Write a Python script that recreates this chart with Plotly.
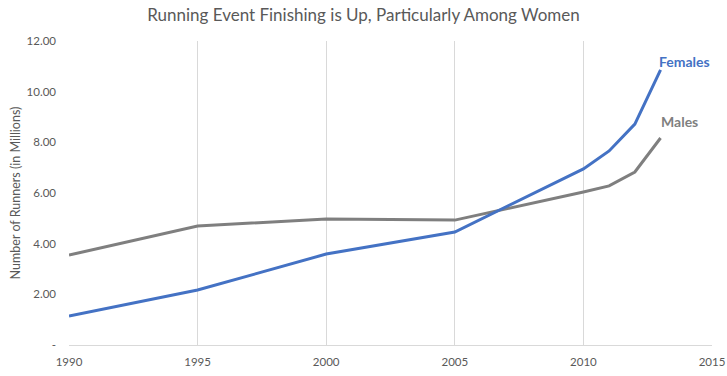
import plotly.graph_objects as go

years = [1990, 1995, 2000, 2005, 2010, 2011, 2012, 2013]
females = [1.14, 2.17, 3.59, 4.46, 6.95, 7.66, 8.72, 10.86]
males = [3.55, 4.70, 4.97, 4.93, 6.04, 6.28, 6.83, 8.17]
y_ticks = [0, 2, 4, 6, 8, 10, 12]
y_tick_labels = ["-", "2.00", "4.00", "6.00", "8.00", "10.00", "12.00"]
x_ticks = [1990, 1995, 2000, 2005, 2010, 2015]

BLUE = "#4472C4"
GRAY = "#7F7F7F"
TXT = "#595959"
FONT = "Lato, sans-serif"

fig = go.Figure()
fig.add_trace(go.Scatter(x=years, y=males, mode="lines", name="Males",
                         line=dict(color=GRAY, width=3)))
fig.add_trace(go.Scatter(x=years, y=females, mode="lines", name="Females",
                         line=dict(color=BLUE, width=3)))

fig.add_annotation(x=years[-1], y=females[-1], text="<b>Females</b>", showarrow=False,
                   xanchor="left", yanchor="middle", xshift=-4, yshift=8,
                   font=dict(family=FONT, size=14, color=BLUE))
fig.add_annotation(x=years[-1], y=males[-1], text="<b>Males</b>", showarrow=False,
                   xanchor="left", yanchor="middle", xshift=-2, yshift=17,
                   font=dict(family=FONT, size=14, color=GRAY))

fig.update_layout(
    width=727, height=376,
    margin=dict(l=69, r=15, t=41, b=31),
    paper_bgcolor="white", plot_bgcolor="white",
    showlegend=False,
    title=dict(text="Running Event Finishing is Up, Particularly Among Women",
               x=0.5, xanchor="center", y=0.96, yanchor="middle",
               font=dict(family=FONT, size=17, color=TXT)),
    font=dict(family=FONT, size=12, color=TXT),
)
fig.update_xaxes(range=[1990, 2015], tickvals=x_ticks, ticktext=[str(v) for v in x_ticks],
                 showgrid=True, gridcolor="#D9D9D9", gridwidth=1,
                 showline=True, linecolor="#D9D9D9", linewidth=1,
                 ticks="", ticklabelstandoff=6, zeroline=False, automargin=False,
                 tickfont=dict(family=FONT, size=11.5, color=TXT))
fig.update_yaxes(range=[0, 12], tickvals=y_ticks, ticktext=y_tick_labels,
                 showgrid=False, showline=False, zeroline=False, automargin=False,
                 ticks="", ticklabelstandoff=12,
                 title=dict(text="Number of Runners (in Millions)", standoff=3,
                            font=dict(family=FONT, size=12.5, color=TXT)),
                 tickfont=dict(family=FONT, size=11.5, color=TXT))

fig.write_html("out.html", config={"displayModeBar": False},
               post_script="document.body.style.margin='0';document.body.style.overflow='hidden';")
